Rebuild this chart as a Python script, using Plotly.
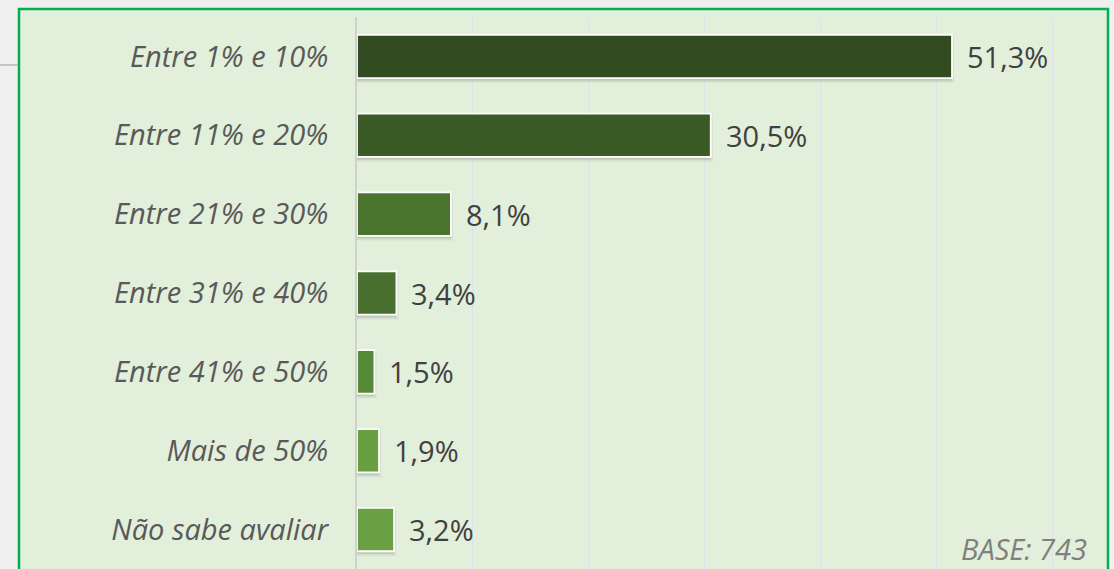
import plotly.graph_objects as go

categories = ["Entre 1% e 10%", "Entre 11% e 20%", "Entre 21% e 30%", "Entre 31% e 40%",
              "Entre 41% e 50%", "Mais de 50%", "Não sabe avaliar"]
values = [51.3, 30.5, 8.1, 3.4, 1.5, 1.9, 3.2]
value_labels = ["51,3%", "30,5%", "8,1%", "3,4%", "1,5%", "1,9%", "3,2%"]
bar_colors = ["#324b20", "#3a5b26", "#4b742f", "#4a7030", "#558b37", "#679f41", "#6aa044"]
base_text = "BASE: 743"

W, H = 1114, 569
FONT = "Open Sans"

fig = go.Figure()

# soft shadow imitation
fig.add_trace(go.Bar(
    x=values, y=categories, orientation="h",
    marker=dict(color="rgba(0,0,0,0.10)", line=dict(color="rgba(0,0,0,0.06)", width=4)),
    width=0.56, offset=-0.25, hoverinfo="skip", showlegend=False,
))
fig.add_trace(go.Bar(
    x=values, y=categories, orientation="h",
    marker=dict(color=bar_colors, line=dict(color="white", width=1.8)),
    width=0.55, showlegend=False,
))

for c, v, t in zip(categories, values, value_labels):
    fig.add_annotation(x=v, y=c, xref="x", yref="y", text=t, showarrow=False,
                       xanchor="left", yanchor="middle", xshift=13,
                       font=dict(family=FONT, size=29, color="#404040"))

fig.add_annotation(x=1088 / W, y=0, xref="paper", yref="paper", text=base_text,
                   showarrow=False, xanchor="right", yanchor="bottom", borderpad=0,
                   font=dict(family=FONT, size=29, color="#7f7f7f", style="italic"))

# panel
fig.add_shape(type="rect", xref="paper", yref="paper",
              x0=19 / W, x1=1108 / W, y0=-0.1, y1=1 - 9 / H,
              fillcolor="#e2efda", line=dict(color="#00b050", width=2.5), layer="below")
fig.add_shape(type="line", xref="paper", yref="paper",
              x0=0, x1=18 / W, y0=1 - 65 / H, y1=1 - 65 / H,
              line=dict(color="#a6a6a6", width=1.2), layer="below")

px_per = (952 - 357) / 51.3
x_right = 1100
fig.update_xaxes(domain=[357 / W, x_right / W], range=[0, (x_right - 357) / px_per],
                 dtick=10, showgrid=True, gridcolor="#d9e2ea", gridwidth=1.2,
                 showticklabels=False, zeroline=False, showline=False, fixedrange=True)
fig.update_yaxes(domain=[0, 1 - 17 / H], categoryorder="array", categoryarray=categories,
                 autorange="reversed", showgrid=False, zeroline=False,
                 showline=True, linecolor="#d0d0d0", linewidth=2,
                 ticks="", ticklabelstandoff=21,
                 tickfont=dict(family=FONT, size=29, color="#595959", style="italic"))

fig.update_layout(width=W, height=H, margin=dict(l=0, r=0, t=0, b=0),
                  paper_bgcolor="#f0f0f0", plot_bgcolor="rgba(0,0,0,0)",
                  barmode="overlay", bargap=0.45)

fig.write_html("out.html", config={"displayModeBar": False},
               post_script="document.body.style.margin='0';document.body.style.background='#f0f0f0';")
